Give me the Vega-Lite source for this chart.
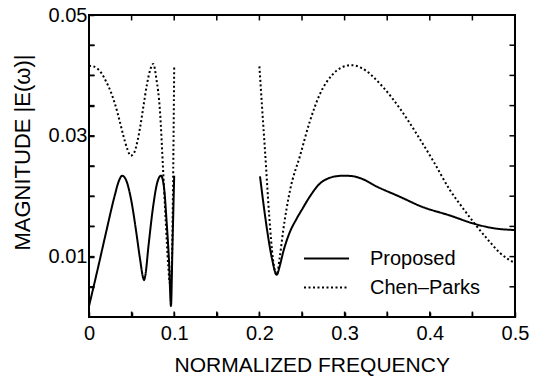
{
  "$schema": "https://vega.github.io/schema/vega-lite/v6.json",
  "width": 426,
  "height": 302,
  "autosize": {"type": "none"},
  "padding": {"left": 89, "top": 15, "right": 19, "bottom": 63},
  "background": "white",
  "config": {
    "view": {"stroke": "black", "strokeWidth": 2},
    "font": "Liberation Sans",
    "axis": {
      "domain": false, "grid": false,
      "labelColor": "black", "titleColor": "black", "labelFont": "Liberation Sans",
      "titleFont": "Liberation Sans", "labelFontSize": 20, "titleFontSize": 21, "titleFontWeight": "normal"
    }
  },
  "datasets": {
    "xt": [
      {"t": 0.05}, {"t": 0.1}, {"t": 0.15}, {"t": 0.2}, {"t": 0.25},
      {"t": 0.3}, {"t": 0.35}, {"t": 0.4}, {"t": 0.45}
    ],
    "yt": [
      {"v": 0.005}, {"v": 0.01}, {"v": 0.015}, {"v": 0.02}, {"v": 0.025},
      {"v": 0.03}, {"v": 0.035}, {"v": 0.04}, {"v": 0.045}
    ],
    "d": [
      {"f": 0, "m": 0.0018, "s": "Proposed", "g": 1},
      {"f": 0.01, "m": 0.0078, "s": "Proposed", "g": 1},
      {"f": 0.02, "m": 0.014, "s": "Proposed", "g": 1},
      {"f": 0.03, "m": 0.02, "s": "Proposed", "g": 1},
      {"f": 0.035, "m": 0.0225, "s": "Proposed", "g": 1},
      {"f": 0.039, "m": 0.0234, "s": "Proposed", "g": 1},
      {"f": 0.044, "m": 0.0225, "s": "Proposed", "g": 1},
      {"f": 0.05, "m": 0.019, "s": "Proposed", "g": 1},
      {"f": 0.055, "m": 0.0145, "s": "Proposed", "g": 1},
      {"f": 0.06, "m": 0.0095, "s": "Proposed", "g": 1},
      {"f": 0.0635, "m": 0.0065, "s": "Proposed", "g": 1},
      {"f": 0.0646, "m": 0.0061, "s": "Proposed", "g": 1},
      {"f": 0.066, "m": 0.0068, "s": "Proposed", "g": 1},
      {"f": 0.07, "m": 0.012, "s": "Proposed", "g": 1},
      {"f": 0.075, "m": 0.018, "s": "Proposed", "g": 1},
      {"f": 0.08, "m": 0.0222, "s": "Proposed", "g": 1},
      {"f": 0.0845, "m": 0.0234, "s": "Proposed", "g": 1},
      {"f": 0.088, "m": 0.0215, "s": "Proposed", "g": 1},
      {"f": 0.091, "m": 0.016, "s": "Proposed", "g": 1},
      {"f": 0.094, "m": 0.009, "s": "Proposed", "g": 1},
      {"f": 0.0962, "m": 0.0018, "s": "Proposed", "g": 1},
      {"f": 0.098, "m": 0.012, "s": "Proposed", "g": 1},
      {"f": 0.1, "m": 0.0234, "s": "Proposed", "g": 1},
      {"f": 0.2007, "m": 0.0233, "s": "Proposed", "g": 2},
      {"f": 0.205, "m": 0.0185, "s": "Proposed", "g": 2},
      {"f": 0.21, "m": 0.0135, "s": "Proposed", "g": 2},
      {"f": 0.215, "m": 0.0095, "s": "Proposed", "g": 2},
      {"f": 0.2203, "m": 0.007, "s": "Proposed", "g": 2},
      {"f": 0.224, "m": 0.0085, "s": "Proposed", "g": 2},
      {"f": 0.228, "m": 0.0108, "s": "Proposed", "g": 2},
      {"f": 0.235, "m": 0.0138, "s": "Proposed", "g": 2},
      {"f": 0.2438, "m": 0.0163, "s": "Proposed", "g": 2},
      {"f": 0.25, "m": 0.0178, "s": "Proposed", "g": 2},
      {"f": 0.259, "m": 0.0199, "s": "Proposed", "g": 2},
      {"f": 0.271, "m": 0.0221, "s": "Proposed", "g": 2},
      {"f": 0.28, "m": 0.0229, "s": "Proposed", "g": 2},
      {"f": 0.29, "m": 0.0233, "s": "Proposed", "g": 2},
      {"f": 0.3, "m": 0.0234, "s": "Proposed", "g": 2},
      {"f": 0.31, "m": 0.0233, "s": "Proposed", "g": 2},
      {"f": 0.32, "m": 0.0229, "s": "Proposed", "g": 2},
      {"f": 0.3377, "m": 0.0216, "s": "Proposed", "g": 2},
      {"f": 0.365, "m": 0.0199, "s": "Proposed", "g": 2},
      {"f": 0.39, "m": 0.0183, "s": "Proposed", "g": 2},
      {"f": 0.4237, "m": 0.0168, "s": "Proposed", "g": 2},
      {"f": 0.453, "m": 0.0154, "s": "Proposed", "g": 2},
      {"f": 0.475, "m": 0.0147, "s": "Proposed", "g": 2},
      {"f": 0.5, "m": 0.0144, "s": "Proposed", "g": 2},
      {"f": 0, "m": 0.0416, "s": "Chen–Parks", "g": 1},
      {"f": 0.005, "m": 0.0415, "s": "Chen–Parks", "g": 1},
      {"f": 0.01, "m": 0.0411, "s": "Chen–Parks", "g": 1},
      {"f": 0.015, "m": 0.0403, "s": "Chen–Parks", "g": 1},
      {"f": 0.02, "m": 0.039, "s": "Chen–Parks", "g": 1},
      {"f": 0.025, "m": 0.0375, "s": "Chen–Parks", "g": 1},
      {"f": 0.03, "m": 0.0355, "s": "Chen–Parks", "g": 1},
      {"f": 0.035, "m": 0.033, "s": "Chen–Parks", "g": 1},
      {"f": 0.04, "m": 0.0302, "s": "Chen–Parks", "g": 1},
      {"f": 0.045, "m": 0.0278, "s": "Chen–Parks", "g": 1},
      {"f": 0.049, "m": 0.0267, "s": "Chen–Parks", "g": 1},
      {"f": 0.053, "m": 0.0272, "s": "Chen–Parks", "g": 1},
      {"f": 0.057, "m": 0.0292, "s": "Chen–Parks", "g": 1},
      {"f": 0.06, "m": 0.0314, "s": "Chen–Parks", "g": 1},
      {"f": 0.064, "m": 0.035, "s": "Chen–Parks", "g": 1},
      {"f": 0.068, "m": 0.0385, "s": "Chen–Parks", "g": 1},
      {"f": 0.072, "m": 0.041, "s": "Chen–Parks", "g": 1},
      {"f": 0.0755, "m": 0.0419, "s": "Chen–Parks", "g": 1},
      {"f": 0.079, "m": 0.0395, "s": "Chen–Parks", "g": 1},
      {"f": 0.0833, "m": 0.0341, "s": "Chen–Parks", "g": 1},
      {"f": 0.0872, "m": 0.0237, "s": "Chen–Parks", "g": 1},
      {"f": 0.09, "m": 0.016, "s": "Chen–Parks", "g": 1},
      {"f": 0.093, "m": 0.0085, "s": "Chen–Parks", "g": 1},
      {"f": 0.095, "m": 0.0055, "s": "Chen–Parks", "g": 1},
      {"f": 0.097, "m": 0.008, "s": "Chen–Parks", "g": 1},
      {"f": 0.0985, "m": 0.02, "s": "Chen–Parks", "g": 1},
      {"f": 0.1, "m": 0.0415, "s": "Chen–Parks", "g": 1},
      {"f": 0.2, "m": 0.0415, "s": "Chen–Parks", "g": 2},
      {"f": 0.203, "m": 0.035, "s": "Chen–Parks", "g": 2},
      {"f": 0.2066, "m": 0.0275, "s": "Chen–Parks", "g": 2},
      {"f": 0.2116, "m": 0.0166, "s": "Chen–Parks", "g": 2},
      {"f": 0.216, "m": 0.0095, "s": "Chen–Parks", "g": 2},
      {"f": 0.2203, "m": 0.007, "s": "Chen–Parks", "g": 2},
      {"f": 0.224, "m": 0.01, "s": "Chen–Parks", "g": 2},
      {"f": 0.228, "m": 0.0144, "s": "Chen–Parks", "g": 2},
      {"f": 0.236, "m": 0.021, "s": "Chen–Parks", "g": 2},
      {"f": 0.2477, "m": 0.0267, "s": "Chen–Parks", "g": 2},
      {"f": 0.259, "m": 0.0323, "s": "Chen–Parks", "g": 2},
      {"f": 0.271, "m": 0.0369, "s": "Chen–Parks", "g": 2},
      {"f": 0.285, "m": 0.04, "s": "Chen–Parks", "g": 2},
      {"f": 0.295, "m": 0.0412, "s": "Chen–Parks", "g": 2},
      {"f": 0.3083, "m": 0.0417, "s": "Chen–Parks", "g": 2},
      {"f": 0.32, "m": 0.0412, "s": "Chen–Parks", "g": 2},
      {"f": 0.3455, "m": 0.038, "s": "Chen–Parks", "g": 2},
      {"f": 0.365, "m": 0.0345, "s": "Chen–Parks", "g": 2},
      {"f": 0.3846, "m": 0.0303, "s": "Chen–Parks", "g": 2},
      {"f": 0.405, "m": 0.0256, "s": "Chen–Parks", "g": 2},
      {"f": 0.4237, "m": 0.021, "s": "Chen–Parks", "g": 2},
      {"f": 0.44, "m": 0.0178, "s": "Chen–Parks", "g": 2},
      {"f": 0.453, "m": 0.0154, "s": "Chen–Parks", "g": 2},
      {"f": 0.47, "m": 0.0125, "s": "Chen–Parks", "g": 2},
      {"f": 0.4824, "m": 0.0106, "s": "Chen–Parks", "g": 2},
      {"f": 0.5, "m": 0.0089, "s": "Chen–Parks", "g": 2}
    ]
  },
  "layer": [
    {
      "data": {"name": "d"},
      "mark": {"type": "line", "interpolate": "monotone", "strokeWidth": 2, "color": "black", "clip": true},
      "encoding": {
        "x": {
          "field": "f", "type": "quantitative",
          "scale": {"domain": [0, 0.5], "nice": false, "zero": false},
          "axis": {
            "orient": "bottom", "title": "NORMALIZED FREQUENCY", "offset": -5,
            "values": [0, 0.05, 0.1, 0.15, 0.2, 0.25, 0.3, 0.35, 0.4, 0.45, 0.5],
            "labelExpr": "abs(datum.value*10 - round(datum.value*10)) < 0.001 ? (datum.value == 0 ? '0' : format(datum.value, '.1f')) : ''",
            "ticks": true, "tickSize": 5, "tickColor": "black", "tickWidth": 1.5, "tickOpacity": 1,
            "labelPadding": 6, "labelFlush": false, "titlePadding": 11, "titleX": 222.7
          }
        },
        "y": {
          "field": "m", "type": "quantitative",
          "scale": {"domain": [0, 0.05], "nice": false, "zero": false},
          "axis": {
            "orient": "left", "title": "MAGNITUDE |E(ω)|", "offset": -5,
            "values": [0.005, 0.01, 0.015, 0.02, 0.025, 0.03, 0.035, 0.04, 0.045, 0.05],
            "labelExpr": "(format(datum.value, '.3f') == '0.010' || format(datum.value, '.3f') == '0.030' || format(datum.value, '.3f') == '0.050') ? format(datum.value, '.2f') : ''",
            "ticks": true, "tickSize": 5, "tickColor": "black", "tickWidth": 1.5, "tickOpacity": 1,
            "labelPadding": 2, "labelFlush": false,
            "titleFontSize": 22,
            "titleAngle": -90, "titleAlign": "center", "titleBaseline": "middle",
            "titleX": -72, "titleY": 137
          }
        },
        "strokeDash": {
          "field": "s", "type": "nominal",
          "scale": {"domain": ["Proposed", "Chen–Parks"], "range": [[1, 0], [2, 2.5]]},
          "legend": {
            "orient": "none", "legendX": 225, "legendY": 231, "title": null,
            "symbolType": "M-2,0H2", "symbolSize": 506, "symbolStrokeWidth": 2, "symbolStrokeColor": "black",
            "labelFont": "Liberation Sans", "labelFontSize": 20, "labelColor": "black", "labelOffset": 31,
            "rowPadding": 6
          }
        },
        "detail": {"field": "g", "type": "nominal"}
      }
    },
    {
      "data": {"name": "xt"},
      "mark": {"type": "rule", "strokeWidth": 1.5, "color": "black"},
      "encoding": {
        "x": {"field": "t", "type": "quantitative", "scale": {"domain": [0, 0.5], "nice": false, "zero": false}, "axis": null},
        "y": {"datum": 0, "type": "quantitative", "scale": {"domain": [0, 0.05], "nice": false, "zero": false}, "axis": null},
        "y2": {"datum": 0.0009}
      }
    },
    {
      "data": {"name": "xt"},
      "mark": {"type": "rule", "strokeWidth": 1.5, "color": "black"},
      "encoding": {
        "x": {"field": "t", "type": "quantitative", "scale": {"domain": [0, 0.5], "nice": false, "zero": false}, "axis": null},
        "y": {"datum": 0.05, "type": "quantitative", "scale": {"domain": [0, 0.05], "nice": false, "zero": false}, "axis": null},
        "y2": {"datum": 0.0491}
      }
    },
    {
      "data": {"name": "yt"},
      "mark": {"type": "rule", "strokeWidth": 1.5, "color": "black"},
      "encoding": {
        "y": {"field": "v", "type": "quantitative", "scale": {"domain": [0, 0.05], "nice": false, "zero": false}, "axis": null},
        "x": {"datum": 0, "type": "quantitative", "scale": {"domain": [0, 0.5], "nice": false, "zero": false}, "axis": null},
        "x2": {"datum": 0.0065}
      }
    },
    {
      "data": {"name": "yt"},
      "mark": {"type": "rule", "strokeWidth": 1.5, "color": "black"},
      "encoding": {
        "y": {"field": "v", "type": "quantitative", "scale": {"domain": [0, 0.05], "nice": false, "zero": false}, "axis": null},
        "x": {"datum": 0.5, "type": "quantitative", "scale": {"domain": [0, 0.5], "nice": false, "zero": false}, "axis": null},
        "x2": {"datum": 0.4935}
      }
    }
  ],
  "resolve": {"axis": {"x": "independent", "y": "independent"}}
}
